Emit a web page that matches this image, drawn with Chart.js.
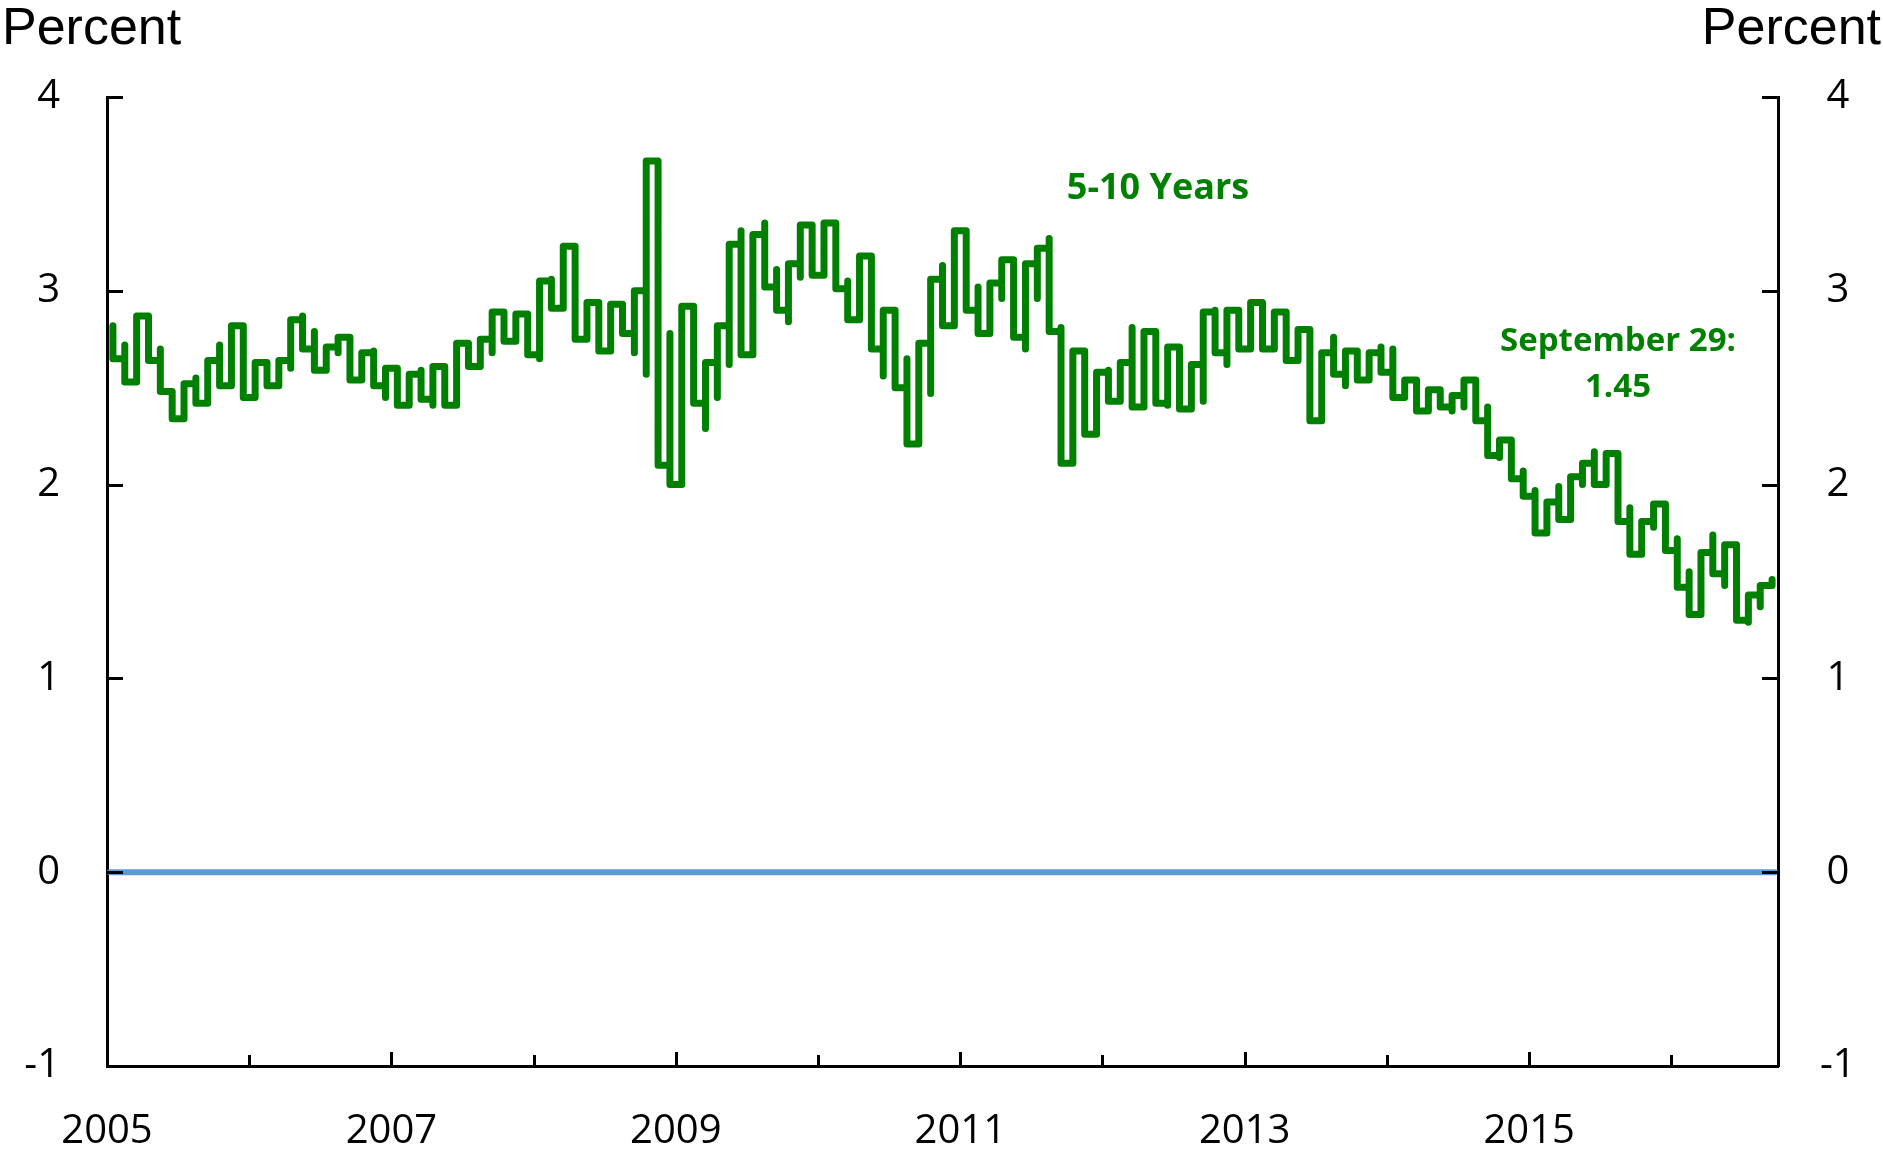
<!DOCTYPE html>
<html>
<head>
<meta charset="utf-8">
<title>5-10 Years</title>
<script src="https://cdn.jsdelivr.net/npm/chart.js"></script>
<style>
  html, body { margin: 0; padding: 0; background: #fff; }
  canvas { display: block; }
</style>
</head>
<body>
<canvas id="expChart" width="1883" height="1149"></canvas>
<script>
// two readings per month (Jan 2005 - Sep 2016), in the order they are drawn
const firstYear = 2005;
const early = [
    2.82, 2.72, 2.75, 2.82, 2.70, 2.48, 2.35, 2.55, 2.51, 2.72, 2.52, 2.63, // 2005
    2.45, 2.63, 2.59, 2.60, 2.87, 2.79, 2.59, 2.68, 2.68, 2.56, 2.69, 2.45, // 2006
    2.59, 2.47, 2.59, 2.41, 2.59, 2.55, 2.71, 2.64, 2.68, 2.83, 2.77, 2.80, // 2007
    2.65, 3.06, 2.96, 3.11, 2.76, 2.94, 2.76, 2.92, 2.68, 2.57, 3.49, 2.78, // 2008
    2.19, 2.84, 2.29, 2.45, 2.62, 3.31, 2.82, 3.35, 3.11, 2.84, 3.07, 3.29, // 2009
    3.17, 3.34, 3.05, 2.98, 3.15, 2.56, 2.70, 2.65, 2.39, 2.47, 3.13, 2.90, // 2010
    3.17, 3.02, 2.84, 2.96, 2.98, 2.70, 2.96, 3.27, 2.81, 2.16, 2.54, 2.30, // 2011
    2.59, 2.44, 2.81, 2.58, 2.68, 2.41, 2.51, 2.40, 2.43, 2.90, 2.62, 2.83, // 2012
    2.80, 2.93, 2.70, 2.80, 2.64, 2.67, 2.42, 2.76, 2.51, 2.66, 2.56, 2.71, // 2013
    2.70, 2.45, 2.52, 2.38, 2.49, 2.38, 2.40, 2.51, 2.40, 2.14, 2.20, 2.07, // 2014
    1.97, 1.75, 1.99, 1.82, 2.00, 2.17, 2.02, 2.00, 1.88, 1.69, 1.78, 1.85, // 2015
    1.72, 1.55, 1.44, 1.74, 1.48, 1.54, 1.29, 1.37, 1.48                    // 2016
];
const late = [
    2.65, 2.53, 2.87, 2.64, 2.48, 2.34, 2.52, 2.42, 2.64, 2.51, 2.82, 2.45,
    2.63, 2.51, 2.64, 2.85, 2.70, 2.59, 2.71, 2.76, 2.54, 2.68, 2.51, 2.60,
    2.41, 2.57, 2.44, 2.61, 2.41, 2.73, 2.61, 2.75, 2.89, 2.74, 2.88, 2.67,
    3.05, 2.91, 3.23, 2.75, 2.94, 2.69, 2.93, 2.78, 3.00, 3.67, 2.10, 2.00,
    2.92, 2.42, 2.63, 2.82, 3.24, 2.67, 3.29, 3.02, 2.90, 3.14, 3.34, 3.08,
    3.35, 3.01, 2.85, 3.18, 2.70, 2.90, 2.50, 2.21, 2.73, 3.06, 2.82, 3.31,
    2.90, 2.78, 3.04, 3.16, 2.76, 3.14, 3.22, 2.79, 2.11, 2.69, 2.26, 2.58,
    2.43, 2.63, 2.40, 2.79, 2.42, 2.71, 2.39, 2.62, 2.89, 2.68, 2.90, 2.70,
    2.94, 2.70, 2.89, 2.64, 2.80, 2.33, 2.68, 2.57, 2.69, 2.54, 2.68, 2.58,
    2.45, 2.54, 2.38, 2.49, 2.40, 2.46, 2.54, 2.33, 2.15, 2.23, 2.03, 1.94,
    1.75, 1.91, 1.82, 2.04, 2.11, 2.00, 2.16, 1.81, 1.64, 1.81, 1.90, 1.66,
    1.47, 1.33, 1.65, 1.54, 1.69, 1.30, 1.43, 1.48, 1.51
];
const zeroDates = [2005.02, 2016.73];
const zeroVals = [0, 0];
const xTickYears = [2005, 2006, 2007, 2008, 2009, 2010, 2011, 2012, 2013, 2014, 2015, 2016];
const xLabelYears = [2005, 2007, 2009, 2011, 2013, 2015];
const yTicks = [-1, 0, 1, 2, 3, 4];

document.addEventListener("DOMContentLoaded", function () {
    const ctx = document.getElementById('expChart').getContext('2d');

    const points = [];
    for (let i = 0; i < early.length; i++) {
        const x = firstYear + (i + 0.5) / 12; // mid-month
        points.push({ x: x, y: early[i] });
        points.push({ x: x, y: late[i] });
    }
    const zeroPoints = zeroDates.map((d, i) => ({ x: d, y: zeroVals[i] }));

    const tickFont = { family: 'Open Sans', size: 40 };

    // inward tick marks and the text labels
    const marks = {
        id: 'marks',
        afterDraw(chart) {
            const c = chart.ctx, a = chart.chartArea;
            const xs = chart.scales.x, ys = chart.scales.y;
            c.save();
            c.strokeStyle = '#000';
            c.lineWidth = 3;
            c.beginPath();
            yTicks.forEach(v => {
                const py = Math.round(ys.getPixelForValue(v)) + 0.5;
                c.moveTo(a.left, py); c.lineTo(a.left + 16, py);
                c.moveTo(a.right - 16, py); c.lineTo(a.right, py);
            });
            xTickYears.forEach(v => {
                const px = Math.round(xs.getPixelForValue(v)) + 0.5;
                const len = xLabelYears.includes(v) ? 14 : 11;
                c.moveTo(px, a.bottom); c.lineTo(px, a.bottom - len);
            });
            c.stroke();

            c.fillStyle = '#000';
            c.textBaseline = 'alphabetic';
            c.font = '52px "Liberation Sans"';
            c.textAlign = 'left';
            c.fillText('Percent', 2, 44);
            c.textAlign = 'right';
            c.fillText('Percent', 1881, 44);

            c.fillStyle = '#008000';
            c.textAlign = 'center';
            c.font = 'bold 36px "Open Sans"';
            c.fillText('5-10 Years', 1158, 199);
            c.font = 'bold 33px "Open Sans"';
            c.fillText('September 29:', 1618, 351);
            c.fillText('1.45', 1618, 397);
            c.restore();
        }
    };

    new Chart(ctx, {
        type: 'line',
        data: {
            datasets: [{
                label: '5-10 Years',
                data: points,
                borderColor: '#008000',
                borderWidth: 7,
                borderJoinStyle: 'round',
                borderCapStyle: 'round',
                stepped: 'before',
                pointRadius: 0,
                yAxisID: 'y'
            }, {
                label: 'zero',
                data: zeroPoints,
                borderColor: '#5B9BD5',
                borderWidth: 6,
                borderCapStyle: 'round',
                pointRadius: 0,
                yAxisID: 'y2'
            }]
        },
        options: {
            responsive: false,
            animation: false,
            parsing: false,
            layout: { padding: { top: 97, left: 0, right: 0, bottom: 0 } },
            plugins: { legend: { display: false }, tooltip: { enabled: false } },
            scales: {
                x: {
                    type: 'linear',
                    min: 2005,
                    max: 2016.75,
                    afterBuildTicks: s => { s.ticks = xTickYears.map(v => ({ value: v })); },
                    afterFit: s => { s.height = 83; },
                    grid: { display: true, drawOnChartArea: false, drawTicks: false },
                    border: { display: true, color: '#000', width: 3 },
                    ticks: {
                        autoSkip: false,
                        maxRotation: 0,
                        padding: 42,
                        color: '#000',
                        font: tickFont,
                        callback: v => xLabelYears.includes(v) ? String(v) : ''
                    }
                },
                y: {
                    position: 'left',
                    min: -1,
                    max: 4,
                    afterBuildTicks: s => { s.ticks = yTicks.map(v => ({ value: v })); },
                    afterFit: s => { s.width = 107; },
                    grid: { display: true, drawOnChartArea: false, drawTicks: false },
                    border: { display: true, color: '#000', width: 3 },
                    ticks: { padding: 47, color: '#000', font: tickFont }
                },
                y2: {
                    position: 'right',
                    min: -1,
                    max: 4,
                    afterBuildTicks: s => { s.ticks = yTicks.map(v => ({ value: v })); },
                    afterFit: s => { s.width = 105; },
                    grid: { display: true, drawOnChartArea: false, drawTicks: false },
                    border: { display: true, color: '#000', width: 3 },
                    ticks: { padding: 42, crossAlign: 'center', color: '#000', font: tickFont }
                }
            }
        },
        plugins: [marks]
    });
});
</script>
</body>
</html>
